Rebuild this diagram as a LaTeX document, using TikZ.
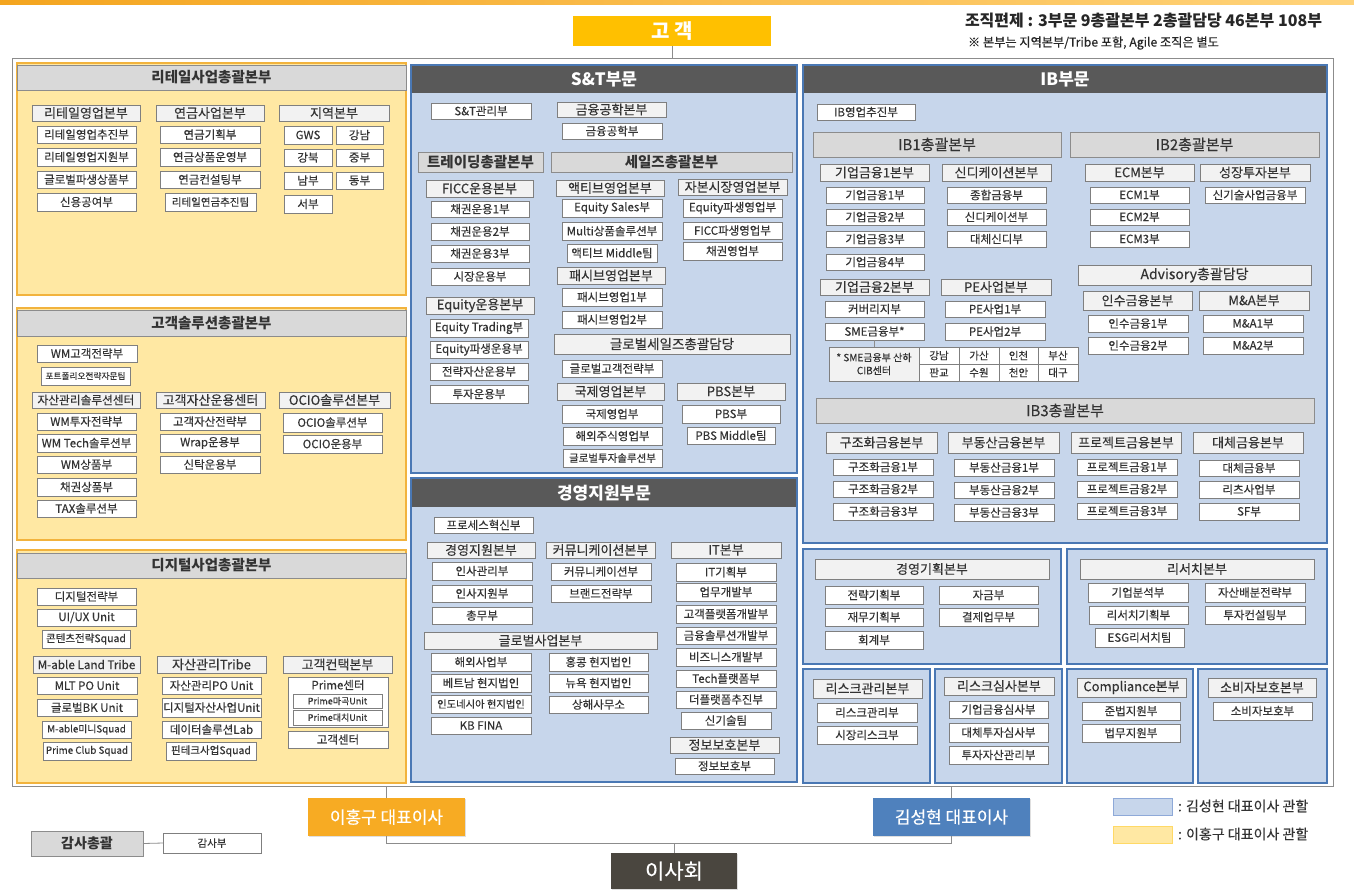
\documentclass[tikz,border=0pt]{standalone}
\usepackage{fontspec}
\setmainfont{Noto Sans CJK KR}[UprightFeatures={FakeBold=0.3}]
\usetikzlibrary{shadows}
\definecolor{ylw}{HTML}{F2B33D}
\definecolor{ylwfill}{HTML}{FFE8A3}
\definecolor{blu}{HTML}{4A78B4}
\definecolor{blufill}{HTML}{C7D6EB}
\definecolor{darkhead}{HTML}{595959}
\definecolor{boxline}{HTML}{7F7F7F}
\definecolor{sheadfill}{HTML}{F2F2F2}
\definecolor{gheadfill}{HTML}{D9D9D9}
\definecolor{gheadline}{HTML}{8C8C8C}
\definecolor{txt}{HTML}{333333}
\definecolor{gold}{HTML}{FFC000}
\definecolor{leeor}{HTML}{F7AB23}
\definecolor{kimbl}{HTML}{4F81BD}
\definecolor{brdcol}{HTML}{4A463F}
\definecolor{framegray}{HTML}{8C8C8C}
\definecolor{topA}{HTML}{F4A51F}
\definecolor{topB}{HTML}{FFD37A}
\definecolor{legBline}{HTML}{8EA9D8}
\definecolor{legYline}{HTML}{FFD966}
\tikzset{
  nbase/.style={inner sep=0pt, outer sep=0pt, align=center, anchor=center, text=txt},
  ubox/.style={nbase, draw=boxline, fill=white, line width=0.7pt, font=\fontsize{11.5}{13}\selectfont},
  midbox/.style={ubox, font=\fontsize{10.5}{12}\selectfont},
  sqbox/.style={ubox, font=\fontsize{10.5}{12}\selectfont},
  tinybox/.style={ubox, font=\fontsize{9}{10}\selectfont},
  cellbox/.style={ubox, font=\fontsize{10.5}{12}\selectfont},
  shead/.style={nbase, draw=boxline, fill=sheadfill, line width=0.7pt, font=\fontsize{13}{15}\selectfont},
  ghead/.style={nbase, draw=gheadline, fill=gheadfill, line width=0.8pt, font=\fontsize{14.5}{16}\bfseries\selectfont,
    drop shadow={shadow xshift=1.2pt, shadow yshift=-1.2pt, opacity=0.3}},
  gheadr/.style={ghead, font=\fontsize{15}{17}\selectfont},
  bighead/.style={nbase, fill=darkhead, text=white, font=\fontsize{17}{19}\bfseries\selectfont},
  panelY/.style={nbase, draw=ylw, fill=ylwfill, line width=1.5pt},
  panelB/.style={nbase, draw=blu, fill=blufill, line width=2pt},
  framebox/.style={nbase, draw=framegray, line width=1pt},
  leebox/.style={nbase, fill=leeor, text=white, font=\fontsize{17}{19}\selectfont,
    drop shadow={shadow xshift=1pt, shadow yshift=-1pt, opacity=0.25}},
  kimbox/.style={leebox, fill=kimbl},
  brdbox/.style={leebox, fill=brdcol, font=\fontsize{21}{24}\selectfont},
  legB/.style={nbase, draw=legBline, fill=blufill, line width=1pt},
  legY/.style={nbase, draw=legYline, fill=ylwfill, line width=1pt},
  conn/.style={draw=framegray, line width=0.8pt},
}
\newcommand\bx[7][ubox]{\node[#1, minimum width={(#5-#3)*1pt}, minimum height={(#6-#4)*1pt}] (#2) at ({(#3+#5)/2},{(#4+#6)/2}) {#7};}
\begin{document}
\begin{tikzpicture}[x=1pt,y=-1pt]
\useasboundingbox (0,0) rectangle (1354,892);
\fill[white] (0,0) rectangle (1354,892);
\shade[left color=topA, right color=topB] (0,0) rectangle (1354,4);
% top
\bx[nbase, fill=gold, text=white, font=\fontsize{20}{22}\bfseries\selectfont]{cust}{573}{16}{771}{46}{고 객}
\node[nbase, anchor=east, text=black!85, font=\fontsize{16}{18}\bfseries\selectfont] (ttl) at (1322,21) {조직편제 : 3부문 9총괄본부 2총괄담당 46본부 108부};
\node[nbase, anchor=west, text=black!85, font=\fontsize{12.2}{14}\selectfont] (nte) at (968,43) {※ 본부는 지역본부/Tribe 포함, Agile 조직은 별도};
\bx[framebox]{frame}{12}{58}{1333}{786}{}
\draw[conn] (cust.south) -- (cust.south |- frame.north);
% ===== Retail
\bx[panelY]{pRet}{17}{63}{406}{295}{}
\bx[ghead]{hRet}{17}{65}{406}{90}{리테일사업총괄본부}
\bx[shead]{rA}{32}{105}{140}{121}{리테일영업본부}
\bx[shead]{rB}{156}{105}{264}{121}{연금사업본부}
\bx[shead]{rC}{279}{105}{389}{121}{지역본부}
\bx{rA1}{37}{126}{136}{143}{리테일영업추진부}
\bx{rA2}{37}{148}{136}{166}{리테일영업지원부}
\bx{rA3}{37}{171}{136}{188}{글로벌파생상품부}
\bx{rA4}{37}{193}{136}{211}{신용공여부}
\bx{rB1}{160}{126}{260}{143}{연금기획부}
\bx{rB2}{160}{148}{260}{166}{연금상품운영부}
\bx{rB3}{160}{171}{260}{188}{연금컨설팅부}
\bx[midbox]{rB4}{165}{193}{256}{211}{리테일연금추진팀}
\bx{rC1}{284}{126}{332}{144}{GWS}
\bx{rC2}{336}{126}{383}{144}{강남}
\bx{rC3}{284}{149}{332}{166}{강북}
\bx{rC4}{336}{149}{383}{166}{중부}
\bx{rC5}{284}{172}{332}{189}{남부}
\bx{rC6}{336}{172}{383}{189}{동부}
\bx{rC7}{284}{195}{332}{213}{서부}
% ===== Customer solutions
\bx[panelY]{pCus}{17}{308}{406}{540}{}
\bx[ghead]{hCus}{17}{310}{406}{336}{고객솔루션총괄본부}
\bx{cX1}{37}{345}{137}{362}{WM고객전략부}
\bx[ubox, font=\fontsize{8.7}{10}\selectfont]{cX2}{41}{367}{130}{385}{포트폴리오전략자문팀}
\bx[shead, font=\fontsize{11.7}{13}\selectfont]{cA}{32}{392}{140}{408}{자산관리솔루션센터}
\bx[shead]{cB}{156}{392}{265}{408}{고객자산운용센터}
\bx[shead]{cC}{279}{392}{390}{408}{OCIO솔루션본부}
\bx{cA1}{37}{413}{136}{430}{WM투자전략부}
\bx{cA2}{37}{434}{136}{452}{WM Tech솔루션부}
\bx{cA3}{37}{456}{136}{473}{WM상품부}
\bx{cA4}{37}{478}{136}{496}{채권상품부}
\bx{cA5}{37}{500}{136}{517}{TAX솔루션부}
\bx{cB1}{160}{413}{260}{430}{고객자산전략부}
\bx{cB2}{160}{434}{260}{452}{Wrap운용부}
\bx{cB3}{160}{456}{260}{473}{신탁운용부}
\bx{cC1}{283}{413}{382}{432}{OCIO솔루션부}
\bx{cC2}{283}{435}{382}{453}{OCIO운용부}
% ===== Digital
\bx[panelY]{pDig}{17}{550}{406}{783}{}
\bx[ghead]{hDig}{17}{553}{406}{578}{디지털사업총괄본부}
\bx{dX1}{37}{588}{136}{605}{디지털전략부}
\bx{dX2}{37}{609}{136}{626}{UI/UX Unit}
\bx[sqbox]{dX3}{42}{630}{130}{648}{콘텐츠전략Squad}
\bx[shead, font=\fontsize{11.7}{13}\selectfont]{dA}{33}{656}{140}{673}{M-able Land Tribe}
\bx[shead]{dB}{157}{656}{266}{673}{자산관리Tribe}
\bx[shead]{dC}{283}{656}{392}{673}{고객컨택본부}
\bx{dA1}{37}{677}{137}{694}{MLT PO Unit}
\bx{dA2}{37}{699}{137}{716}{글로벌BK Unit}
\bx[ubox, font=\fontsize{9.8}{11}\selectfont]{dA3}{42}{721}{131}{738}{M-able미니Squad}
\bx[ubox, font=\fontsize{9.8}{11}\selectfont]{dA4}{43}{742}{131}{760}{Prime Club Squad}
\bx{dB1}{162}{677}{261}{694}{자산관리PO Unit}
\bx{dB2}{162}{698}{261}{717}{디지털자산사업Unit}
\bx{dB3}{162}{721}{261}{738}{데이터솔루션Lab}
\bx[sqbox]{dB4}{166}{742}{256}{760}{핀테크사업Squad}
\bx{dC1}{288}{677}{388}{727}{}
\node[nbase, font=\fontsize{11.5}{13}\selectfont] (dC1t) at (338,685) {Prime센터};
\bx[tinybox]{dC2}{293}{694}{382}{708}{Prime마곡Unit}
\bx[tinybox]{dC3}{293}{710}{382}{725}{Prime대치Unit}
\bx{dC4}{288}{731}{388}{748}{고객센터}
% ===== S&T
\bx[panelB]{pST}{411}{65}{797}{473}{}
\bx[bighead]{hST}{412}{66}{796}{93}{S\&T부문}
\bx{s0}{431}{103}{531}{119}{S\&T관리부}
\bx[shead]{sQ}{557}{102}{666}{117}{금융공학본부}
\bx{sQ1}{562}{123}{662}{139}{금융공학부}
\bx[ghead]{sT}{418}{152}{543}{172}{트레이딩총괄본부}
\bx[ghead]{sS}{551}{152}{792}{172}{세일즈총괄본부}
\bx[shead]{sA}{426}{180}{533}{197}{FICC운용본부}
\bx[shead]{sB}{556}{180}{664}{196}{액티브영업본부}
\bx[shead]{sC}{678}{179}{787}{195}{자본시장영업본부}
\bx{sA1}{431}{201}{529}{217}{채권운용1부}
\bx{sA2}{431}{223}{529}{240}{채권운용2부}
\bx{sA3}{431}{245}{529}{262}{채권운용3부}
\bx{sA4}{431}{268}{529}{285}{시장운용부}
\bx{sB1}{562}{199}{662}{217}{Equity Sales부}
\bx{sB2}{562}{222}{662}{240}{Multi상품솔루션부}
\bx{sB3}{567}{244}{657}{262}{액티브 Middle팀}
\bx{sC1}{683}{199}{782}{217}{Equity파생영업부}
\bx{sC2}{683}{222}{782}{239}{FICC파생영업부}
\bx{sC3}{683}{242}{782}{260}{채권영업부}
\bx[shead]{sD}{557}{267}{665}{284}{패시브영업본부}
\bx{sD1}{562}{288}{662}{306}{패시브영업1부}
\bx{sD2}{562}{311}{662}{328}{패시브영업2부}
\bx[shead]{sE}{426}{297}{534}{314}{Equity운용본부}
\bx{sE1}{430}{319}{528}{337}{Equity Trading부}
\bx{sE2}{430}{341}{528}{358}{Equity파생운용부}
\bx{sE3}{430}{363}{528}{380}{전략자산운용부}
\bx{sE4}{430}{385}{528}{403}{투자운용부}
\bx[shead, font=\fontsize{13.5}{15}\selectfont]{sG}{554}{334}{790}{354}{글로벌세일즈총괄담당}
\bx{sG1}{562}{360}{662}{377}{글로벌고객전략부}
\bx[shead]{sH}{557}{383}{664}{400}{국제영업본부}
\bx[shead]{sI}{677}{383}{785}{400}{PBS본부}
\bx{sH1}{562}{405}{662}{423}{국제영업부}
\bx{sH2}{563}{427}{662}{445}{해외주식영업부}
\bx[midbox]{sH3}{563}{449}{662}{467}{글로벌투자솔루션부}
\bx{sI1}{682}{405}{780}{423}{PBS부}
\bx{sI2}{687}{427}{775}{444}{PBS Middle팀}
% ===== Management support
\bx[panelB]{pMS}{411}{478}{797}{782}{}
\bx[bighead]{hMS}{412}{479}{796}{507}{경영지원부문}
\bx{m0}{434}{517}{533}{533}{프로세스혁신부}
\bx[shead]{mA}{427}{542}{535}{558}{경영지원본부}
\bx[shead]{mB}{546}{542}{655}{558}{커뮤니케이션본부}
\bx[shead]{mC}{671}{542}{781}{558}{IT본부}
\bx{mA1}{432}{562}{532}{580}{인사관리부}
\bx{mA2}{432}{585}{532}{602}{인사지원부}
\bx{mA3}{432}{607}{532}{624}{총무부}
\bx{mB1}{551}{563}{651}{580}{커뮤니케이션부}
\bx{mB2}{551}{585}{651}{602}{브랜드전략부}
\bx{mC1}{676}{563}{776}{581}{IT기획부}
\bx{mC2}{676}{583}{776}{601}{업무개발부}
\bx{mC3}{676}{605}{776}{623}{고객플랫폼개발부}
\bx{mC4}{676}{627}{776}{644}{금융솔루션개발부}
\bx{mC5}{676}{648}{776}{666}{비즈니스개발부}
\bx{mC6}{676}{670}{776}{687}{Tech플랫폼부}
\bx{mC7}{676}{691}{776}{708}{더플랫폼추진부}
\bx{mC8}{681}{712}{771}{729}{신기술팀}
\bx[shead]{mD}{670}{737}{779}{753}{정보보호본부}
\bx{mD1}{675}{758}{774}{774}{정보보호부}
\bx[shead]{mG}{424}{632}{657}{649}{글로벌사업본부}
\bx{mG1}{431}{653}{531}{671}{해외사업부}
\bx{mG2}{431}{674}{531}{692}{베트남 현지법인}
\bx[ubox, font=\fontsize{10.3}{12}\selectfont]{mG3}{431}{695}{531}{713}{인도네시아 현지법인}
\bx{mG4}{431}{717}{531}{734}{KB FINA}
\bx{mG5}{549}{653}{648}{671}{홍콩 현지법인}
\bx{mG6}{549}{674}{648}{692}{뉴욕 현지법인}
\bx{mG7}{549}{696}{648}{713}{상해사무소}
% ===== IB
\bx[panelB]{pIB}{803}{65}{1327}{543}{}
\bx[bighead]{hIB}{804}{66}{1326}{93}{IB부문}
\bx{iX}{817}{104}{915}{120}{IB영업추진부}
\bx[gheadr]{iT1}{813}{132}{1061}{157}{IB1총괄본부}
\bx[gheadr]{iT2}{1070}{132}{1319}{157}{IB2총괄본부}
\bx[shead]{iA}{820}{164}{929}{181}{기업금융1본부}
\bx[shead]{iB}{942}{164}{1051}{181}{신디케이션본부}
\bx[shead]{iC}{1085}{164}{1194}{181}{ECM본부}
\bx[shead]{iD}{1200}{164}{1310}{181}{성장투자본부}
\bx{iA1}{826}{187}{924}{203}{기업금융1부}
\bx{iA2}{826}{209}{924}{225}{기업금융2부}
\bx{iA3}{826}{231}{924}{247}{기업금융3부}
\bx{iA4}{826}{254}{924}{270}{기업금융4부}
\bx{iB1}{947}{187}{1046}{203}{종합금융부}
\bx{iB2}{947}{209}{1046}{225}{신디케이션부}
\bx{iB3}{947}{231}{1046}{247}{대체신디부}
\bx{iC1}{1090}{187}{1189}{203}{ECM1부}
\bx{iC2}{1090}{209}{1189}{225}{ECM2부}
\bx{iC3}{1090}{231}{1189}{247}{ECM3부}
\bx{iD1}{1205}{187}{1305}{203}{신기술사업금융부}
\bx[shead, font=\fontsize{14}{16}\selectfont]{iAdv}{1078}{265}{1311}{285}{Advisory총괄담당}
\bx[shead]{iE}{820}{279}{929}{295}{기업금융2본부}
\bx[shead]{iF}{941}{279}{1051}{295}{PE사업본부}
\bx{iE1}{825}{301}{924}{317}{커버리지부}
\bx{iE2}{825}{323}{924}{340}{SME금융부*}
\bx{iF1}{945}{301}{1045}{317}{PE사업1부}
\bx{iF2}{945}{323}{1045}{340}{PE사업2부}
\bx[shead]{iG}{1083}{291}{1192}{310}{인수금융본부}
\bx[shead]{iH}{1199}{291}{1309}{310}{M\&A본부}
\bx{iG1}{1088}{315}{1188}{332}{인수금융1부}
\bx{iG2}{1088}{337}{1188}{354}{인수금융2부}
\bx{iH1}{1203}{315}{1303}{332}{M\&A1부}
\bx{iH2}{1203}{337}{1303}{354}{M\&A2부}
\bx[shead, font=\fontsize{10}{13}\selectfont]{smeL}{829}{347}{919}{381}{* SME금융부 산하\\CIB센터}
\bx[cellbox]{sc1}{919}{347}{959}{364}{강남}
\bx[cellbox]{sc2}{959}{347}{999}{364}{가산}
\bx[cellbox]{sc3}{999}{347}{1038}{364}{인천}
\bx[cellbox]{sc4}{1038}{347}{1078}{364}{부산}
\bx[cellbox]{sc5}{919}{364}{959}{381}{판교}
\bx[cellbox]{sc6}{959}{364}{999}{381}{수원}
\bx[cellbox]{sc7}{999}{364}{1038}{381}{천안}
\bx[cellbox]{sc8}{1038}{364}{1078}{381}{대구}
\draw[conn] (iE2.south) -- (iE2.south |- smeL.north);
\bx[gheadr]{iT3}{816}{398}{1314}{423}{IB3총괄본부}
\bx[shead]{iJ}{826}{432}{937}{453}{구조화금융본부}
\bx[shead]{iK}{948}{432}{1059}{453}{부동산금융본부}
\bx[shead]{iL}{1071}{432}{1181}{453}{프로젝트금융본부}
\bx[shead]{iM}{1193}{432}{1303}{453}{대체금융본부}
\bx{iJ1}{833}{459}{933}{475}{구조화금융1부}
\bx{iJ2}{833}{481}{933}{497}{구조화금융2부}
\bx{iJ3}{833}{503}{933}{520}{구조화금융3부}
\bx{iK1}{954}{459}{1054}{476}{부동산금융1부}
\bx{iK2}{954}{482}{1054}{498}{부동산금융2부}
\bx{iK3}{954}{504}{1054}{521}{부동산금융3부}
\bx{iL1}{1077}{459}{1177}{475}{프로젝트금융1부}
\bx{iL2}{1077}{481}{1177}{497}{프로젝트금융2부}
\bx{iL3}{1077}{503}{1177}{519}{프로젝트금융3부}
\bx{iM1}{1199}{460}{1299}{476}{대체금융부}
\bx{iM2}{1199}{481}{1299}{498}{리츠사업부}
\bx{iM3}{1199}{503}{1299}{520}{SF부}
% ===== bottom right panels
\bx[panelB]{pPl}{803}{549}{1061}{664}{}
\bx[panelB]{pRs}{1067}{549}{1327}{664}{}
\bx[panelB]{pRk}{803}{669}{930}{783}{}
\bx[panelB]{pRv}{935}{669}{1062}{783}{}
\bx[panelB]{pCo}{1067}{669}{1193}{783}{}
\bx[panelB]{pCp}{1198}{669}{1327}{783}{}
\bx[shead]{plH}{815}{559}{1049}{579}{경영기획본부}
\bx{pl1}{825}{586}{923}{604}{전략기획부}
\bx{pl2}{939}{586}{1038}{604}{자금부}
\bx{pl3}{825}{608}{923}{626}{재무기획부}
\bx{pl4}{939}{608}{1038}{626}{결제업무부}
\bx{pl5}{825}{631}{923}{649}{회계부}
\bx[shead]{rsH}{1080}{559}{1314}{579}{리서치본부}
\bx{rs1}{1088}{583}{1188}{602}{기업분석부}
\bx{rs2}{1205}{583}{1305}{602}{자산배분전략부}
\bx{rs3}{1089}{606}{1188}{624}{리서치기획부}
\bx{rs4}{1205}{606}{1305}{624}{투자컨설팅부}
\bx{rs5}{1095}{628}{1184}{647}{ESG리서치팀}
\bx[shead]{rkH}{813}{679}{922}{698}{리스크관리본부}
\bx{rk1}{817}{703}{917}{722}{리스크관리부}
\bx{rk2}{817}{726}{917}{744}{시장리스크부}
\bx[shead]{rvH}{944}{677}{1054}{695}{리스크심사본부}
\bx{rv1}{949}{701}{1048}{718}{기업금융심사부}
\bx{rv2}{949}{723}{1048}{742}{대체투자심사부}
\bx{rv3}{949}{746}{1048}{764}{투자자산관리부}
\bx[shead]{coH}{1077}{678}{1186}{697}{Compliance본부}
\bx{co1}{1082}{702}{1180}{720}{준법지원부}
\bx{co2}{1082}{724}{1180}{742}{법무지원부}
\bx[shead]{cpH}{1208}{678}{1316}{697}{소비자보호본부}
\bx{cp1}{1213}{702}{1312}{720}{소비자보호부}
% ===== bottom
\bx[leebox]{lee}{308}{798}{465}{836}{이홍구 대표이사}
\bx[kimbox]{kim}{873}{798}{1030}{836}{김성현 대표이사}
\bx[brdbox]{brd}{611}{853}{737}{889}{이사회}
\coordinate (jn) at (674,843);
\draw[conn] (lee.north) -- (lee.north |- frame.south);
\draw[conn] (kim.north) -- (kim.north |- frame.south);
\draw[conn] (lee.south) |- (jn) -| (kim.south);
\draw[conn] (jn) -- (brd.north);
\bx[ghead, font=\fontsize{14}{16}\bfseries\selectfont]{aud}{31}{831}{143}{856}{감사총괄}
\bx[ubox, font=\fontsize{10.5}{12}\selectfont]{audd}{163}{833}{261}{853}{감사부}
\draw[conn] (aud.east) -- (audd.west);
\bx[legB]{lgB}{1113}{798}{1172}{815}{}
\bx[legY]{lgY}{1113}{826}{1172}{843}{}
\node[nbase, anchor=west, font=\fontsize{14}{16}\selectfont] (lgBt) at (1178,806) {: 김성현 대표이사 관할};
\node[nbase, anchor=west, font=\fontsize{14}{16}\selectfont] (lgYt) at (1178,834) {: 이홍구 대표이사 관할};
\end{tikzpicture}
\end{document}
